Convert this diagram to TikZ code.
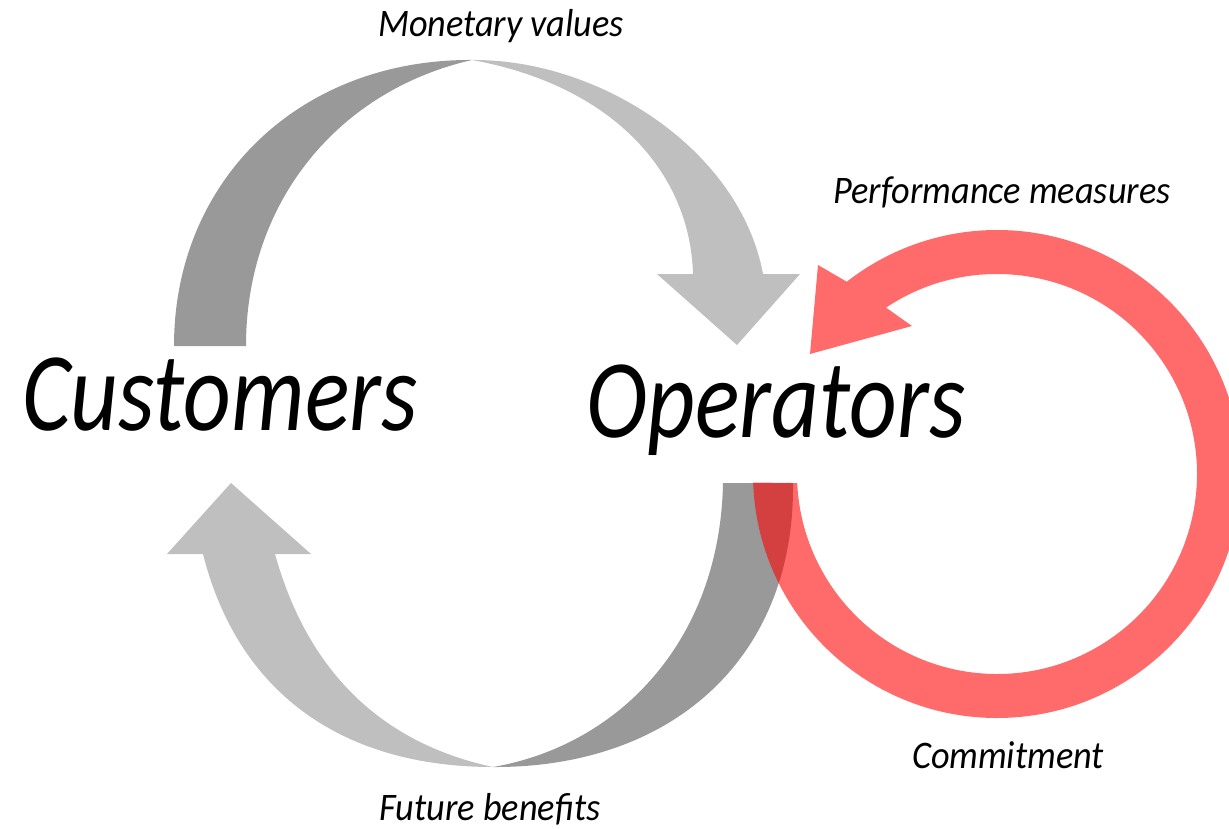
\documentclass[tikz,border=0pt]{standalone}
\usepackage{fontspec}
\usetikzlibrary{calc}
\newfontfamily\bigfont{Carlito}[FakeStretch=0.83]
\newfontfamily\smallfont{Carlito}[FakeStretch=0.93]
\definecolor{ribbondark}{HTML}{999999}
\definecolor{ribbonlight}{HTML}{BFBFBF}
\begin{document}
\begin{tikzpicture}[x=1pt,y=-1pt,
  bigword/.style={font=\bigfont\itshape\fontsize{112}{112}\selectfont, inner sep=0pt, anchor=base},
  flowlabel/.style={font=\smallfont\itshape\fontsize{39}{39}\selectfont, inner sep=0pt, anchor=base},
  back/.style={fill=ribbondark},
  front/.style={fill=ribbonlight},
  loop/.style={fill=red, fill opacity=0.58}]
\useasboundingbox (0,0) rectangle (1229,829);
\clip (0,0) rectangle (1229,829);

% upper ribbon arrow: back side on the left, front side ending in the head
\fill[back] (174,346) .. controls (174,180) and (300,59) .. (472,60)
  .. controls (340,90) and (246,200) .. (246,346) -- cycle;
\fill[front] (472,60) .. controls (600,59) and (740,150) .. (763,274)
  -- (800,274) -- (737,345) -- (657,274) -- (693,274)
  .. controls (690,170) and (610,85) .. (472,60) -- cycle;

% lower ribbon arrow: back side on the right, front side ending in the head
\fill[back] (723,483) -- (793,483) .. controls (795,660) and (670,768) .. (493,767)
  .. controls (620,745) and (720,640) .. (723,483) -- cycle;
\fill[front] (203,554) .. controls (240,700) and (350,767) .. (493,767)
  .. controls (390,745) and (310,680) .. (275,554)
  -- (311,554) -- (231,483) -- (167,554) -- cycle;

% circular feedback arrow round the operators
\fill[loop] ($(997,474)+(178:244)$) arc[start angle=178, end angle=-128, radius=244]
  -- (818,265) -- (810,354) -- (912,326)
  -- ($(997,474)+(-123.7:200)$) arc[start angle=-123.7, end angle=177.4, radius=200]
  -- cycle;

% labels
\node[bigword] (cust) at (220,430) {Customers};
\node[bigword] (oper) at (776,437) {Operators};
\node[flowlabel] (money) at (501,37) {Monetary values};
\node[flowlabel] (perf) at (1002,204) {Performance measures};
\node[flowlabel] (commit) at (1008,768) {Commitment};
\node[flowlabel] (future) at (490,820) {Future benefits};
\end{tikzpicture}
\end{document}
